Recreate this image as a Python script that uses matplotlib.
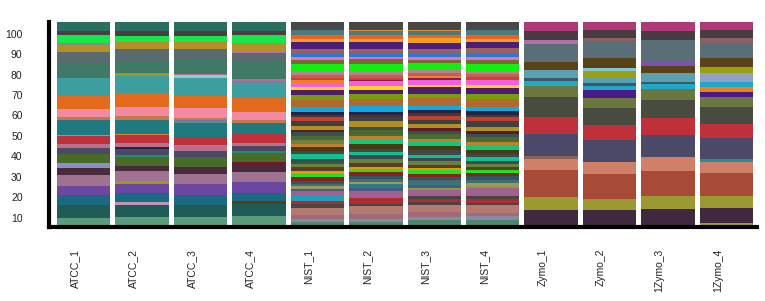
import numpy as np
import matplotlib
matplotlib.use("Agg")
import matplotlib.pyplot as plt

plt.rcParams['font.family'] = ['Liberation Sans', 'DejaVu Sans']

samples = ["ATCC_1", "ATCC_2", "ATCC_3", "ATCC_4",
           "NIST_1", "NIST_2", "NIST_3", "NIST_4",
           "Zymo_1", "Zymo_2", "1Zymo_3", "1Zymo_4"]
ytick_values = [10, 20, 30, 40, 50, 60, 70, 80, 90, 100]

# ---- ATCC group: taxa colours (bottom -> top) and per-sample abundances ----
atcc_colors = ["#d08a30", "#5a9b7a", "#1f5c58", "#5a3c14", "#c294b4", "#1c6a82",
               "#6b47a2", "#9a9a20", "#a07292", "#482a3c", "#6a1a2a", "#8a90c6",
               "#486c28", "#2a8a70", "#4a4a66", "#252550", "#b87189", "#c0303a",
               "#e08030", "#1f7a80", "#6a80a0", "#c6784c", "#f28aa3", "#e3691d",
               "#3c9e9e", "#7080a8", "#90cccc", "#b07090", "#9a9a20", "#3e7a66",
               "#5a6b70", "#b070b0", "#b59028", "#8a8a80", "#17e84a", "#4a3c40",
               "#2d6e63"]
atcc_1 = [0, 4.4, 6.1, 0, 0, 4.9, 4.6, 0, 5.2, 3.6, 0, 2.3, 4.4, 0, 2.8, 0, 1.8, 4.1, 0.7,
          7.0, 0, 1.5, 4.3, 6.2, 8.9, 0, 0, 0, 0, 7.0, 5.4, 0, 3.6, 0.8, 3.8, 2.0, 4.6]
atcc_2 = [0, 4.4, 6.1, 0, 1.3, 4.6, 4.6, 1.3, 4.9, 2.3, 0, 0, 4.4, 0.8, 3.0, 1.1, 1.8, 3.9, 0.8,
          6.6, 0, 2.1, 4.4, 7.0, 8.2, 0, 0, 0, 1.5, 5.4, 6.2, 0, 3.3, 0, 3.3, 2.0, 4.6]
atcc_3 = [0, 4.4, 6.1, 0, 0, 4.9, 5.2, 0, 4.9, 3.3, 0, 0, 4.9, 0, 3.0, 0, 3.0, 3.8, 0,
          6.9, 1.6, 1.1, 4.6, 6.2, 8.5, 0, 1.3, 0.6, 0, 7.0, 5.2, 0, 3.4, 0, 3.3, 2.0, 4.6]
atcc_4 = [0.7, 4.3, 5.9, 1.6, 0, 3.9, 5.2, 0, 5.2, 3.0, 1.6, 0, 4.6, 0.7, 2.6, 0, 1.6, 4.3, 0,
          5.6, 0, 1.1, 4.1, 6.6, 7.4, 1.1, 0, 0.8, 0, 8.7, 4.1, 1.1, 3.8, 0, 3.8, 2.0, 4.6]

# ---- NIST group ----
nist_colors = ["#4a8a6a", "#8a88a8", "#a06a78", "#b47a70", "#4a4444", "#b02a30", "#454545",
               "#20a0b8", "#a06090", "#8a9a40", "#4a5a80", "#2a7a88", "#9a9a60", "#4a6a70",
               "#2a5a60", "#8a2020", "#20e020", "#f09010", "#5a4020", "#6a8040", "#3a5a40",
               "#3a4a50", "#10c090", "#404848", "#4a3a10", "#10c878", "#c08030", "#708040",
               "#4a6a30", "#3a5050", "#5a1a2a", "#b09020", "#404040", "#c04030", "#4a3636",
               "#2a2040", "#10a8e0", "#b06a30", "#7a9a10", "#4a1e6a", "#ffd020", "#f060e0",
               "#8a1a50", "#f08020", "#d04030", "#c06050", "#b88090", "#10f010", "#7a6a30",
               "#e070d0", "#2a7ad0", "#9a6060", "#4a1e7a", "#f0a020", "#f06020", "#4a7a80",
               "#e09030", "#484848"]
nist_1 = [2.0, 1.6, 2.0, 3.3, 2.0, 1.6, 0, 2.3, 2.5, 0, 1.1, 0, 1.3, 1.1, 1.6, 1.6, 1.6, 1.6,
          1.8, 1.5, 1.1, 1.6, 2.1, 1.6, 2.1, 0, 1.6, 1.6, 2.0, 2.1, 1.1, 2.0, 2.0, 2.1, 1.1,
          1.3, 2.6, 3.6, 2.3, 2.3, 1.6, 2.0, 0, 1.3, 1.0, 1.6, 1.3, 3.9, 2.0, 1.6, 2.0, 2.0,
          3.3, 1.6, 2.0, 2.1, 0, 4.1]
nist_2 = [2.3, 1.3, 2.5, 3.8, 1.1, 2.8, 0, 0, 3.8, 0, 1.6, 1.5, 1.0, 1.6, 1.6, 2.0, 1.3, 1.3,
          1.6, 2.0, 0, 2.0, 1.6, 1.6, 2.1, 2.1, 2.0, 0, 3.0, 1.6, 0, 3.0, 1.6, 0, 1.3,
          1.6, 2.6, 3.6, 2.3, 2.3, 1.6, 2.6, 0.6, 0, 1.0, 1.6, 1.6, 3.6, 2.3, 1.3, 2.0, 2.0,
          3.3, 1.6, 2.0, 1.6, 0.5, 4.1]
nist_3 = [3.3, 1.6, 2.3, 3.3, 1.6, 1.6, 1.3, 0, 3.3, 0.8, 1.5, 1.0, 0, 1.3, 1.6, 1.6, 2.0, 0.8,
          1.6, 2.1, 0, 1.6, 1.6, 2.0, 2.0, 2.1, 1.6, 0, 2.5, 1.3, 1.6, 2.0, 2.3, 1.6, 1.6,
          1.3, 2.3, 3.9, 2.0, 3.3, 1.3, 2.6, 0.6, 1.0, 0, 1.6, 2.0, 3.0, 1.6, 1.6, 2.0, 2.0,
          3.0, 2.0, 1.6, 2.0, 0.5, 4.1]
nist_4 = [3.3, 2.0, 1.3, 3.9, 1.3, 1.6, 1.6, 0, 4.1, 0.8, 0, 0, 1.6, 1.3, 2.0, 1.6, 1.3, 0,
          1.6, 1.6, 0, 1.6, 2.0, 1.3, 2.0, 2.5, 1.6, 0, 2.5, 1.3, 1.6, 2.0, 2.6, 2.0, 1.3,
          1.6, 2.3, 3.9, 2.3, 3.0, 1.6, 2.6, 0, 0, 1.3, 1.6, 1.6, 3.3, 2.0, 1.3, 2.3, 2.3,
          3.0, 1.6, 1.6, 2.5, 0, 4.1]

# ---- Zymo group ----
zymo_colors = ["#a0a020", "#40283e", "#9a9a30", "#a84a38", "#d08068", "#20909a", "#8a6058",
               "#4a4a68", "#c0303a", "#484c40", "#6a7840", "#4a1a8a", "#f08010", "#20a8c8",
               "#3a5868", "#5aa0b0", "#90a0c8", "#9aa010", "#80c8d0", "#5a4218", "#7a50b0",
               "#5a6e78", "#8a6060", "#b070a8", "#483c40", "#b03a78"]
zymo_1 = [0, 8.2, 6.1, 13.1, 5.7, 0, 1.6, 10.7, 8.2, 9.8, 5.2, 0, 0, 2.5, 1.3, 4.1, 0, 0, 0,
          4.1, 0, 8.7, 0, 2.0, 4.4, 4.3]
zymo_2 = [0, 8.2, 5.2, 12.1, 5.9, 0, 0, 10.7, 7.4, 8.5, 4.6, 4.1, 0, 2.0, 1.3, 2.5, 0, 3.6, 1.6,
          4.6, 0, 8.5, 1.3, 0, 4.1, 3.8]
zymo_3 = [0, 8.5, 6.2, 12.6, 6.6, 0, 0, 11.0, 8.2, 8.7, 5.4, 0, 0, 2.5, 1.1, 4.1, 0, 0, 0,
          3.8, 2.0, 10.7, 0, 0, 4.4, 4.3]
zymo_4 = [1.6, 7.7, 5.4, 11.5, 5.6, 1.3, 0, 10.2, 7.0, 8.2, 4.9, 2.5, 2.5, 2.5, 0, 0, 4.1, 3.3, 0,
          4.1, 0, 7.4, 2.5, 0, 4.1, 3.8]

groups = [
    (atcc_colors, [atcc_1, atcc_2, atcc_3, atcc_4]),
    (nist_colors, [nist_1, nist_2, nist_3, nist_4]),
    (zymo_colors, [zymo_1, zymo_2, zymo_3, zymo_4]),
]

fig = plt.figure(figsize=(7.65, 3.01), dpi=100)
ax = fig.add_axes([49 / 765, (301 - 226.5) / 301, 708 / 765, 204.5 / 301])

xpos = 0
for colors, sample_vals in groups:
    for vals in sample_vals:
        v = np.array(vals, dtype=float)
        v = v / v.sum() * 100.0
        bottoms = np.concatenate([[0], np.cumsum(v)[:-1]])
        for h, b, c in zip(v, bottoms, colors):
            if h > 0:
                ax.bar(xpos, h, bottom=b, width=0.915, color=c, linewidth=0)
        xpos += 1

ax.set_xlim(-0.59, 11.52)
ax.set_ylim(0, 100)

ax.set_xticks(np.arange(len(samples)) - 0.15)
ax.set_xticklabels(samples, rotation=90, fontsize=7.5, color="#222222")
ax.set_yticks(np.array(ytick_values) - 5.7)
ax.set_yticklabels([str(v) for v in ytick_values], fontsize=7.5, color="#222222")
ax.tick_params(axis='x', length=0, pad=16)
ax.tick_params(axis='y', length=0, pad=19)

for s in ["top", "right"]:
    ax.spines[s].set_visible(False)
for s in ["left", "bottom"]:
    ax.spines[s].set_linewidth(3)
    ax.spines[s].set_color("black")

fig.savefig("out.png", dpi=100, facecolor="white")
